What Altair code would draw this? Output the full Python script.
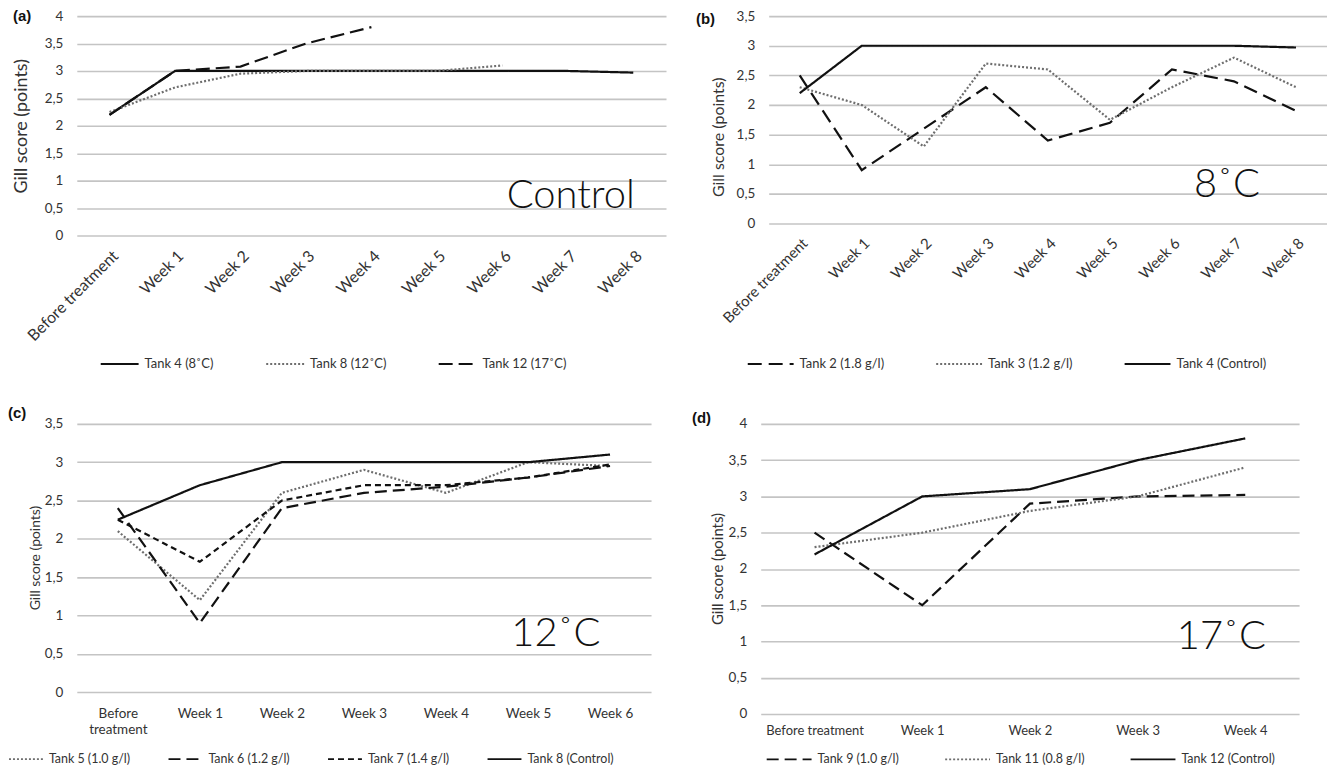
import altair as alt
import pandas as pd

FONT = "Lato"
TXT = "#333333"
GRID = "#c4c4c4"
SOLID = "#111111"
DOT = "#6e6e6e"

# ---------------- data ----------------
weeks8 = ["Before treatment", "Week 1", "Week 2", "Week 3", "Week 4",
          "Week 5", "Week 6", "Week 7", "Week 8"]
weeks6 = weeks8[:7]
weeks4 = weeks8[:5]

# (a) Control
a_names = ["Tank 4 (8˚C)", "Tank 8 (12˚C)", "Tank 12 (17˚C)"]
a_tank4 = [2.2, 3.0, 3.0, 3.0, 3.0, 3.0, 3.0, 3.0, 2.97]
a_tank8 = [2.25, 2.7, 2.95, 3.0, 3.0, 3.0, 3.1]
a_tank12 = [2.2, 3.0, 3.08, 3.5, 3.8]

# (b) 8 °C
b_names = ["Tank 2 (1.8 g/l)", "Tank 3 (1.2 g/l)", "Tank 4 (Control)"]
b_tank2 = [2.5, 0.9, 1.6, 2.3, 1.4, 1.7, 2.6, 2.4, 1.9]
b_tank3 = [2.3, 2.0, 1.3, 2.7, 2.6, 1.75, 2.3, 2.8, 2.3]
b_tank4 = [2.2, 3.0, 3.0, 3.0, 3.0, 3.0, 3.0, 3.0, 2.97]

# (c) 12 °C
c_names = ["Tank 5 (1.0 g/l)", "Tank 6 (1.2 g/l)", "Tank 7 (1.4 g/l)", "Tank 8 (Control)"]
c_tank5 = [2.1, 1.2, 2.6, 2.9, 2.6, 3.0, 2.95]
c_tank6 = [2.4, 0.9, 2.4, 2.6, 2.68, 2.8, 2.95]
c_tank7 = [2.25, 1.7, 2.5, 2.7, 2.7, 2.8, 2.97]
c_tank8 = [2.25, 2.7, 3.0, 3.0, 3.0, 3.0, 3.1]

# (d) 17 °C
d_names = ["Tank 9 (1.0 g/l)", "Tank 11 (0.8 g/l)", "Tank 12 (Control)"]
d_tank9 = [2.5, 1.5, 2.9, 3.0, 3.02]
d_tank11 = [2.3, 2.5, 2.8, 3.0, 3.4]
d_tank12 = [2.2, 3.0, 3.1, 3.5, 3.8]

ticks_35 = [0, 0.5, 1, 1.5, 2, 2.5, 3, 3.5]
ticks_4 = [0, 0.5, 1, 1.5, 2, 2.5, 3, 3.5, 4]


def make_df(cats, names, series):
    rows = []
    for name, vals in zip(names, series):
        for i, v in enumerate(vals):
            rows.append({"cat": cats[i], "idx": i, "val": v, "series": name})
    return pd.DataFrame(rows)


def panel(cats, names, series, colors, dashes, ymax, yticks, w, h,
          tag, tag_xy, big, big_cat, big_val, big_dx,
          rotated, lab_pad, xlab_size, title_size, title_xy,
          leg_xy, leg_sym, leg_cp, leg_size, ylab_size=13.5):
    df = make_df(cats, names, series)

    if rotated:
        xaxis = alt.Axis(title=None, labelAngle=315, labelAlign="right",
                         labelBaseline="top", domain=False, ticks=False,
                         grid=False, labelPadding=lab_pad, labelFont=FONT,
                         labelFontSize=xlab_size, labelColor=TXT,
                         labelOverlap=False)
    else:
        xaxis = alt.Axis(title=None, labelAngle=0, domain=False, ticks=False,
                         grid=False, labelPadding=lab_pad, labelFont=FONT,
                         labelFontSize=xlab_size, labelColor=TXT,
                         labelOverlap=False, labelLineHeight=16,
                         labelExpr=("datum.value == 'Before treatment' && "
                                    + ("true" if len(cats) == 7 else "false")
                                    + " ? ['Before', 'treatment'] : datum.label"))
    xscale = alt.Scale(type="point", domain=cats, padding=0.5)
    yaxis = alt.Axis(values=yticks, title="Gill score (points)",
                     labelExpr="replace(toString(datum.value), '.', ',')",
                     grid=True, gridColor=GRID, gridWidth=1.6,
                     domain=False, ticks=False, labelPadding=14,
                     labelFont=FONT, labelFontSize=ylab_size, labelColor=TXT,
                     titleFont=FONT, titleFontSize=title_size,
                     titleFontWeight="normal", titleColor=TXT,
                     titleX=title_xy[0], titleY=title_xy[1],
                     titleAngle=270, titleBaseline="middle", titleAlign="center")
    yscale = alt.Scale(domain=[0, ymax], nice=False, zero=True)

    leg = alt.Legend(orient="none", legendX=leg_xy[0], legendY=leg_xy[1],
                     direction="horizontal", columns=len(names), title=None,
                     symbolType="stroke", symbolSize=leg_sym * leg_sym,
                     symbolStrokeWidth=2, labelFont=FONT,
                     labelFontSize=leg_size, labelColor=TXT,
                     columnPadding=leg_cp, labelOffset=5, padding=0,
                     rowPadding=0, gridAlign="each")

    lines = alt.Chart(df).mark_line(strokeWidth=2.2).encode(
        x=alt.X("cat:N", scale=xscale, axis=xaxis, sort=cats),
        y=alt.Y("val:Q", scale=yscale, axis=yaxis),
        color=alt.Color("series:N", scale=alt.Scale(domain=names, range=colors),
                        legend=leg),
        strokeDash=alt.StrokeDash("series:N",
                                  scale=alt.Scale(domain=names, range=dashes),
                                  legend=leg),
        order=alt.Order("idx:Q"),
    )

    bigdf = pd.DataFrame({"cat": [big_cat], "val": [big_val], "txt": [big]})
    bigtxt = alt.Chart(bigdf).mark_text(
        font=FONT, fontSize=40, fontWeight=300, color="#111111",
        align="center", baseline="alphabetic", dx=big_dx,
    ).encode(
        x=alt.X("cat:N", scale=xscale, axis=xaxis, sort=cats),
        y=alt.Y("val:Q", scale=yscale, axis=yaxis),
        text="txt:N",
    )

    tagdf = pd.DataFrame({"t": [tag]})
    tagtxt = alt.Chart(tagdf).mark_text(
        font="Liberation Sans", fontSize=15, fontWeight="bold", color="#111111",
        align="left", baseline="middle",
    ).encode(x=alt.value(tag_xy[0]), y=alt.value(tag_xy[1]), text="t:N")

    return alt.layer(lines, bigtxt, tagtxt).properties(width=w, height=h)


pa = panel(weeks8, a_names, [a_tank4, a_tank8, a_tank12],
           [SOLID, DOT, SOLID], [[1, 0], [2, 2], [14, 6]],
           4, ticks_4, 591, 220,
           "(a)", (-64, 0), "Control", "Week 7", 0.5, 3,
           True, 12, 16, 18, (-55, 110),
           (23, 329), 38, 48, 13)

pb = panel(weeks8, b_names, [b_tank2, b_tank3, b_tank4],
           [SOLID, DOT, SOLID], [[14, 7], [2, 2], [1, 0]],
           3.5, ticks_35, 560, 208,
           "(b)", (-73, 3), "8˚C", "Week 7", 0.45, -7,
           True, 12, 15, 16, (-50, 121),
           (-22, 325), 46, 48, 13)

pc = panel(weeks6, c_names, [c_tank5, c_tank6, c_tank7, c_tank8],
           [DOT, SOLID, SOLID, SOLID], [[2, 2], [12, 6], [6, 4], [1, 0]],
           3.5, ticks_35, 576, 269,
           "(c)", (-69, -11), "12˚C", "Week 5", 0.6, 28,
           False, 15, 13.5, 14, (-41, 134),
           (-69, 318), 34, 34, 12.5)

pd_ = panel(weeks4, d_names, [d_tank9, d_tank11, d_tank12],
            [SOLID, DOT, SOLID], [[12, 6], [2, 2], [1, 0]],
            4, ticks_4, 540, 291,
            "(d)", (-69, -6), "17˚C", "Week 4", 0.9, -24,
            False, 11, 13, 15, (-43, 145),
            (5, 313), 45, 42, 12.5)

indep = dict(color="independent", strokeDash="independent",
             x="independent", y="independent")

top = alt.hconcat(pa, pb, spacing=30).resolve_scale(**indep).resolve_legend(
    color="independent", strokeDash="independent")
bottom = alt.hconcat(pc, pd_, spacing=41).resolve_scale(**indep).resolve_legend(
    color="independent", strokeDash="independent")

chart = alt.vconcat(top, bottom, spacing=35).resolve_scale(**indep).resolve_legend(
    color="independent", strokeDash="independent"
).properties(
    padding=0, background="white"
).configure_view(stroke=None)

chart.save("out.html", embed_options={"renderer": "svg", "actions": False})
